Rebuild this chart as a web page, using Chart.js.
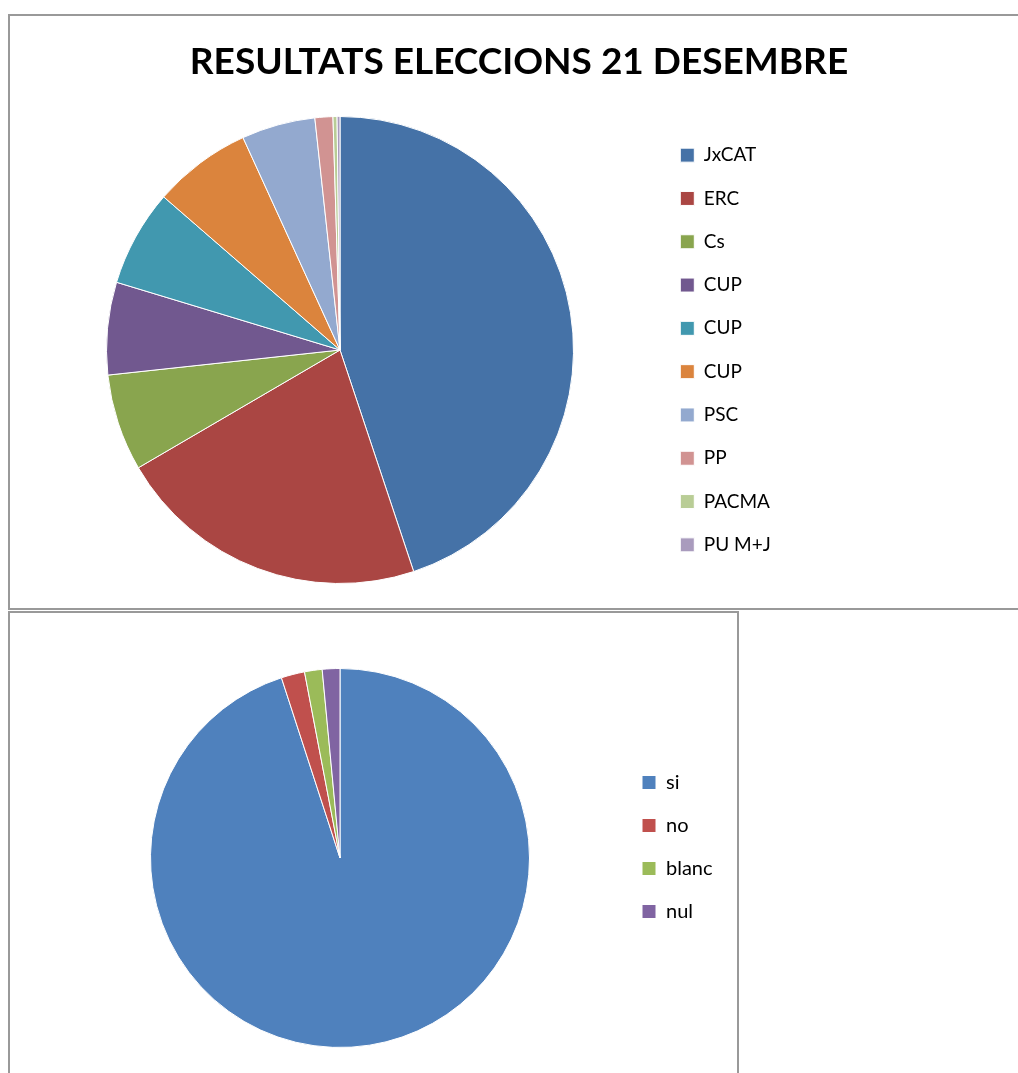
<!DOCTYPE html>
<html>
<head>
<meta charset="utf-8">
<title>Resultats eleccions 21 desembre</title>
<script src="https://cdn.jsdelivr.net/npm/chart.js@4/dist/chart.umd.min.js"></script>
<style>
  body { margin: 0; background: #fff; overflow: hidden; width: 1018px; height: 1073px; position: relative; }
  .box { position: absolute; border: 2px solid #999; background: #fff; }
  #box1 { left: 8px; top: 14px; width: 1020px; height: 592px; }
  #box2 { left: 8px; top: 611px; width: 727px; height: 480px; }
  canvas { display: block; }
</style>
</head>
<body>
<div class="box" id="box1"><canvas id="pie1" width="1020" height="592"></canvas></div>
<div class="box" id="box2"><canvas id="pie2" width="727" height="480"></canvas></div>

<script>
// resultats per partit (percentatge)
const partits = ["JxCAT", "ERC", "Cs", "CUP", "CUP", "CUP", "PSC", "PP", "PACMA", "PU M+J"];
const resultats = [44.9, 21.7, 6.7, 6.4, 6.7, 6.8, 5.1, 1.24, 0.28, 0.2];

// vots referendum
const opcions = ["si", "no", "blanc", "nul"];
const vots = [95, 2, 1.5, 1.5];

const colorsPartits = ['#4572A7', '#AA4643', '#89A54E', '#71588F', '#4198AF', '#DB843D', '#93A9CF', '#D19392', '#B9CD96', '#A99BBD'];
const colorsOpcions = ['#4F81BD', '#C0504D', '#9BBB59', '#8064A2'];

Chart.defaults.font.family = 'Lato, "Open Sans", sans-serif';
Chart.defaults.color = '#000';

const pie1 = {
  type: 'pie',
  data: {
    labels: partits,
    datasets: [{
      data: resultats,
      backgroundColor: colorsPartits,
      borderColor: '#fff',
      borderWidth: 1,
    }]
  },
  options: {
    responsive: false,
    animation: false,
    layout: {
      padding: { left: 14, right: 16, top: 0, bottom: 24 }
    },
    plugins: {
      title: {
        display: true,
        text: 'RESULTATS ELECCIONS 21 DESEMBRE',
        color: '#000',
        font: { size: 37, weight: 'bold' },
        padding: { top: 24, bottom: 31.6 },
      },
      // empty subtitle on the right = blank space right of the legend
      subtitle: {
        display: true,
        text: '',
        position: 'right',
        font: { size: 10 },
        padding: { top: 240, bottom: 0 },
      },
      legend: {
        position: 'right',
        fullSize: false,
        labels: {
          boxWidth: 14,
          boxHeight: 14,
          padding: 24.3,
          color: '#000',
          font: { size: 19 },
        },
      },
      tooltip: { enabled: false },
    },
  },
};

const chart1 = new Chart(document.getElementById('pie1'), pie1);
// legend width depends on the text, fill the rest so the pie stays at the left
chart1.options.plugins.subtitle.padding = { top: 358 - chart1.legend.width - 12, bottom: 0 };
chart1.update();

const pie2 = {
  type: 'pie',
  data: {
    labels: opcions,
    datasets: [{
      data: vots,
      backgroundColor: colorsOpcions,
      borderColor: '#fff',
      borderWidth: 1,
    }]
  },
  options: {
    responsive: false,
    animation: false,
    layout: {
      padding: { left: 51, right: 30, top: 33, bottom: 45 }
    },
    plugins: {
      // empty title, just pushes the pie down a bit from the legend
      title: {
        display: true,
        text: '',
        font: { size: 10 },
        padding: { top: 5, bottom: 5 },
      },
      legend: {
        position: 'right',
        labels: {
          boxWidth: 14,
          boxHeight: 14,
          padding: 23,
          color: '#000',
          font: { size: 20 },
        },
      },
      tooltip: { enabled: false },
    },
  },
};

const chart2 = new Chart(document.getElementById('pie2'), pie2);
chart2.options.layout.padding.right = 727 - 609 - chart2.legend.width;
chart2.update();
</script>
</body>
</html>
